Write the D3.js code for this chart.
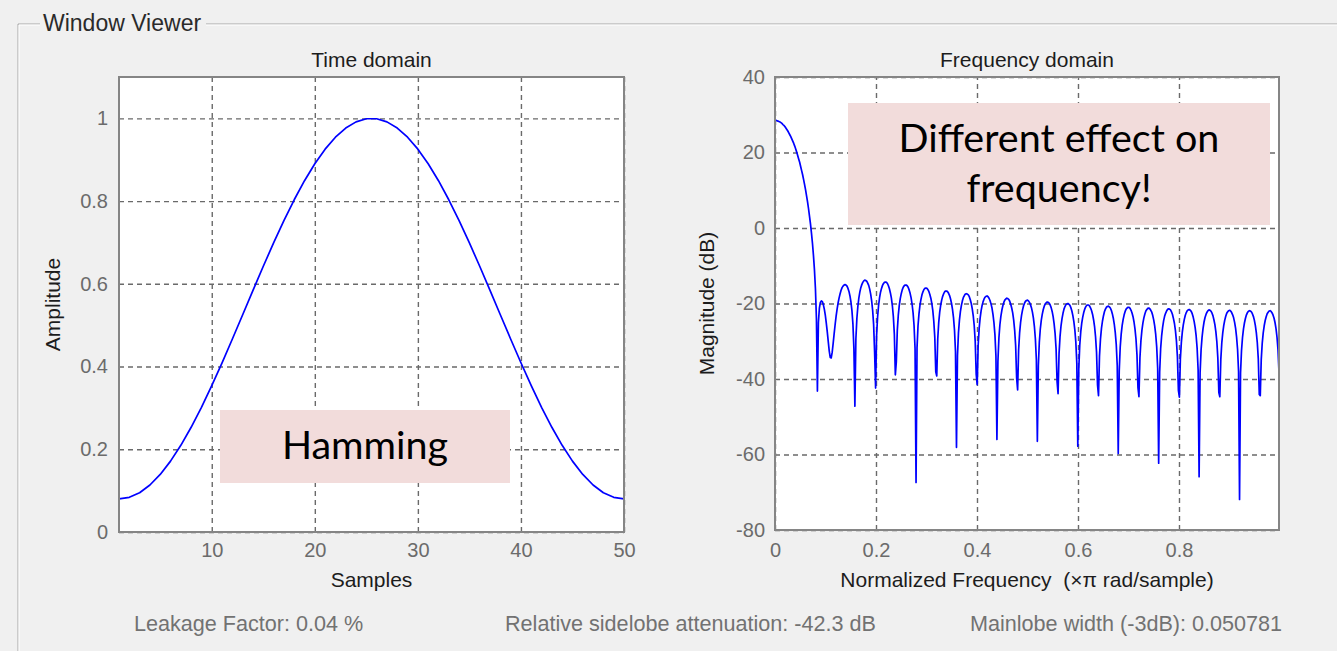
<!DOCTYPE html>
<html>
<head>
<meta charset="utf-8">
<script src="https://cdn.jsdelivr.net/npm/d3@7"></script>
<style>
  body { margin: 0; background: #f0f0f0; }
  svg { display: block; font-family: "Liberation Sans", Arial, sans-serif; }
  .tick-label text { fill: #6b6b6b; font-size: 20px; }
  .grid line { stroke: #6a6a6a; stroke-width: 1.4; stroke-dasharray: 5,4; }
  .grid path, .tick-label path { display: none; }
  .title, .axis-label { fill: #1c1c1c; font-size: 21px; white-space: pre; }
  .stat { fill: #727272; font-size: 21.6px; }
  .callout text { font-family: Lato, "Open Sans", sans-serif; font-size: 39.5px; fill: #000; }
</style>
</head>
<body>
<div id="chart"></div>
<script>
// Time domain: Hamming window, samples 1..50
const hammingAmplitude = [
    0.0800, 0.0838, 0.0950, 0.1136, 0.1392, 0.1713, 0.2096, 0.2532, 0.3015, 0.3538,
    0.4091, 0.4666, 0.5253, 0.5842, 0.6424, 0.6989, 0.7528, 0.8032, 0.8493, 0.8903,
    0.9255, 0.9544, 0.9766, 0.9915, 0.9991, 0.9991, 0.9915, 0.9766, 0.9544, 0.9255,
    0.8903, 0.8493, 0.8032, 0.7528, 0.6989, 0.6424, 0.5842, 0.5253, 0.4666, 0.4091,
    0.3538, 0.3015, 0.2532, 0.2096, 0.1713, 0.1392, 0.1136, 0.0950, 0.0838, 0.0800
];

// Frequency domain: magnitude (dB), 512 bins over [0, 1) x pi rad/sample
const magnitudeDb = [
    28.5, 28.5, 28.4, 28.3, 28.2, 28.1, 27.9, 27.7, 27.4, 27.2, 26.9, 26.5, 26.1, 25.7, 25.2, 24.7,
    24.2, 23.6, 23.0, 22.4, 21.7, 20.9, 20.1, 19.2, 18.3, 17.4, 16.3, 15.2, 14.1, 12.8, 11.5, 10.1,
    8.5, 6.9, 5.1, 3.1, 1.0, -1.4, -4.1, -7.3, -11.1, -16.1, -24.0, -43.2, -25.1, -21.2, -19.7, -19.3,
    -19.5, -20.3, -21.5, -23.1, -25.2, -27.5, -30.1, -32.6, -34.3, -34.4, -32.9, -30.5, -27.9, -25.5, -23.3, -21.4,
    -19.8, -18.5, -17.4, -16.5, -15.8, -15.4, -15.1, -15.0, -15.1, -15.4, -16.0, -16.8, -18.0, -19.6, -21.9, -25.4,
    -32.0, -47.2, -29.4, -24.0, -20.8, -18.6, -17.0, -15.8, -15.0, -14.4, -14.0, -13.8, -13.9, -14.1, -14.6, -15.2,
    -16.2, -17.5, -19.3, -21.8, -25.6, -32.9, -42.4, -28.5, -23.6, -20.6, -18.5, -17.0, -16.0, -15.2, -14.7, -14.4,
    -14.3, -14.4, -14.7, -15.3, -16.1, -17.2, -18.6, -20.6, -23.5, -28.1, -38.9, -35.5, -27.1, -23.1, -20.5, -18.7,
    -17.4, -16.4, -15.7, -15.3, -15.1, -15.1, -15.3, -15.7, -16.4, -17.3, -18.5, -20.2, -22.5, -25.9, -32.0, -67.4,
    -31.7, -25.9, -22.7, -20.4, -18.9, -17.7, -16.9, -16.3, -16.0, -15.9, -16.0, -16.3, -16.8, -17.6, -18.6, -20.0,
    -21.9, -24.7, -28.9, -38.1, -39.2, -29.4, -25.0, -22.3, -20.4, -19.1, -18.1, -17.4, -16.9, -16.7, -16.7, -16.9,
    -17.3, -17.9, -18.8, -20.0, -21.6, -23.8, -27.1, -32.8, -58.1, -33.9, -27.8, -24.4, -22.1, -20.5, -19.3, -18.4,
    -17.9, -17.5, -17.4, -17.5, -17.7, -18.2, -19.0, -20.0, -21.4, -23.3, -25.9, -30.1, -38.8, -41.5, -31.0, -26.6,
    -23.8, -21.9, -20.5, -19.5, -18.8, -18.3, -18.1, -18.0, -18.2, -18.6, -19.2, -20.1, -21.2, -22.9, -25.1, -28.3,
    -33.9, -56.0, -35.4, -29.2, -25.7, -23.4, -21.8, -20.6, -19.7, -19.1, -18.8, -18.6, -18.7, -18.9, -19.4, -20.2,
    -21.2, -22.5, -24.4, -27.1, -31.2, -39.8, -42.9, -32.3, -27.8, -25.0, -23.1, -21.7, -20.6, -19.9, -19.4, -19.2,
    -19.1, -19.3, -19.7, -20.3, -21.1, -22.3, -23.9, -26.1, -29.4, -34.9, -56.5, -36.5, -30.2, -26.7, -24.4, -22.8,
    -21.6, -20.7, -20.1, -19.8, -19.6, -19.7, -19.9, -20.4, -21.1, -22.1, -23.5, -25.4, -28.0, -32.1, -40.7, -43.9,
    -33.2, -28.7, -25.9, -24.0, -22.6, -21.5, -20.8, -20.3, -20.1, -20.0, -20.2, -20.5, -21.1, -22.0, -23.2, -24.8,
    -27.0, -30.2, -35.8, -57.8, -37.3, -31.0, -27.5, -25.2, -23.6, -22.4, -21.5, -20.9, -20.5, -20.4, -20.4, -20.7,
    -21.2, -21.9, -22.9, -24.3, -26.1, -28.8, -32.9, -41.6, -44.4, -33.9, -29.4, -26.6, -24.7, -23.3, -22.2, -21.5,
    -21.0, -20.8, -20.7, -20.9, -21.2, -21.8, -22.7, -23.9, -25.5, -27.7, -30.9, -36.5, -59.7, -37.9, -31.6, -28.1,
    -25.8, -24.2, -23.0, -22.1, -21.5, -21.2, -21.0, -21.0, -21.3, -21.8, -22.5, -23.5, -24.9, -26.8, -29.4, -33.6,
    -42.3, -44.7, -34.4, -29.9, -27.1, -25.2, -23.8, -22.8, -22.0, -21.6, -21.3, -21.2, -21.4, -21.8, -22.3, -23.2,
    -24.4, -26.0, -28.2, -31.5, -37.2, -62.3, -38.2, -32.0, -28.6, -26.3, -24.6, -23.4, -22.6, -22.0, -21.6, -21.4,
    -21.5, -21.7, -22.2, -22.9, -24.0, -25.3, -27.2, -29.9, -34.1, -43.0, -44.8, -34.7, -30.3, -27.5, -25.6, -24.2,
    -23.1, -22.4, -21.9, -21.7, -21.6, -21.8, -22.1, -22.7, -23.6, -24.8, -26.4, -28.6, -31.9, -37.6, -65.9, -38.4,
    -32.3, -28.9, -26.6, -24.9, -23.7, -22.9, -22.3, -21.9, -21.7, -21.8, -22.0, -22.5, -23.2, -24.3, -25.6, -27.5,
    -30.2, -34.5, -43.6, -44.7, -34.8, -30.4, -27.7, -25.8, -24.4, -23.4, -22.6, -22.2, -21.9, -21.8, -22.0, -22.4,
    -23.0, -23.8, -25.0, -26.6, -28.9, -32.2, -38.0, -71.9, -38.4, -32.4, -29.0, -26.7, -25.1, -23.9, -23.0, -22.4,
    -22.1, -21.9, -22.0, -22.2, -22.7, -23.4, -24.4, -25.8, -27.7, -30.4, -34.7, -44.1, -44.4, -34.8, -30.5, -27.8,
    -25.9, -24.5, -23.5, -22.7, -22.3, -22.0, -21.9, -22.1, -22.5, -23.1, -23.9, -25.1, -26.7, -29.0, -32.3, -38.3
];
const freqBins = 512;

// Tick values
const timeTicksX = [10, 20, 30, 40, 50];
const timeTicksY = [0, 0.2, 0.4, 0.6, 0.8, 1];
const freqTicksX = [0, 0.2, 0.4, 0.6, 0.8];
const freqTicksY = [-80, -60, -40, -20, 0, 20, 40];

// Measurements shown under the plots
const statTexts = [
    'Leakage Factor: 0.04 %',
    'Relative sidelobe attenuation: -42.3 dB',
    'Mainlobe width (-3dB): 0.050781'
];

const W = 1337, H = 651;
const svg = d3.select('#chart').append('svg')
    .attr('width', W)
    .attr('height', H);

svg.append('rect').attr('width', W).attr('height', H).attr('fill', '#f0f0f0');

// Group box frame ("Window Viewer")
const frame = svg.append('g');
[['#a7a7a7', 0], ['#ffffff', 1]].forEach(([c, o]) => {
    frame.append('path')
        .attr('d', `M${40},${24 + o}H${18 + o}V${H}M${206},${24 + o}H${W}`)
        .attr('fill', 'none')
        .attr('stroke', c)
        .attr('stroke-width', 1);
});
frame.append('text')
    .attr('x', 43)
    .attr('y', 31)
    .style('font-size', '23px')
    .style('fill', '#2a2a2a')
    .text('Window Viewer');

function drawPanel(opts) {
    const { left, right, top, bottom, xDomain, yDomain, xTicks, yTicks, data, xOf, title, xLabel, yLabel, yLabelX, xPad, yPad } = opts;
    const width = right - left, height = bottom - top;
    const g = svg.append('g').attr('transform', `translate(${left},${top})`);

    const x = d3.scaleLinear().domain(xDomain).range([0, width]);
    const y = d3.scaleLinear().domain(yDomain).range([height, 0]);

    g.append('rect').attr('width', width).attr('height', height).attr('fill', '#fff');

    // Dashed grid
    g.append('g')
        .attr('class', 'grid')
        .attr('transform', `translate(0,${height})`)
        .call(d3.axisBottom(x).tickValues(xTicks).tickSize(-height).tickFormat(''));
    g.append('g')
        .attr('class', 'grid')
        .call(d3.axisLeft(y).tickValues(yTicks).tickSize(-width).tickFormat(''));

    // Line
    const line = d3.line()
        .x((d, i) => x(xOf(i)))
        .y(d => y(d));
    g.append('path')
        .datum(data)
        .attr('fill', 'none')
        .attr('stroke', '#0000ff')
        .attr('stroke-width', 1.7)
        .attr('stroke-linejoin', 'round')
        .attr('d', line);

    // Box
    g.append('rect')
        .attr('width', width)
        .attr('height', height)
        .attr('fill', 'none')
        .attr('stroke', '#858585')
        .attr('stroke-width', 2);

    // Tick labels (plain hyphen for negatives, as in the original)
    g.append('g')
        .attr('class', 'tick-label')
        .attr('transform', `translate(0,${height})`)
        .call(d3.axisBottom(x).tickValues(xTicks).tickSize(0).tickPadding(xPad).tickFormat(d => String(d)));
    g.append('g')
        .attr('class', 'tick-label')
        .call(d3.axisLeft(y).tickValues(yTicks).tickSize(0).tickPadding(yPad).tickFormat(d => String(d)));
    g.selectAll('.tick-label').attr('font-family', null).attr('font-size', null);

    // Titles
    g.append('text')
        .attr('class', 'title')
        .attr('x', width / 2)
        .attr('y', -10)
        .attr('text-anchor', 'middle')
        .text(title);
    g.append('text')
        .attr('class', 'axis-label')
        .attr('x', width / 2)
        .attr('y', 587 - top)
        .attr('text-anchor', 'middle')
        .text(xLabel);
    g.append('text')
        .attr('class', 'axis-label')
        .attr('transform', `translate(${yLabelX - left},${height / 2}) rotate(-90)`)
        .attr('text-anchor', 'middle')
        .text(yLabel);
}

drawPanel({
    left: 119, right: 624, top: 77, bottom: 532,
    xDomain: [1, 50], yDomain: [0, 1.1],
    xTicks: timeTicksX, yTicks: timeTicksY,
    data: hammingAmplitude, xOf: i => i + 1,
    title: 'Time domain', xLabel: 'Samples', yLabel: 'Amplitude', yLabelX: 60,
    xPad: 11, yPad: 11
});

drawPanel({
    left: 775, right: 1279, top: 77, bottom: 530,
    xDomain: [0, (freqBins - 1) / freqBins], yDomain: [-80, 40],
    xTicks: freqTicksX, yTicks: freqTicksY,
    data: magnitudeDb, xOf: i => i / freqBins,
    title: 'Frequency domain', xLabel: 'Normalized Frequency  (\u00d7\u03c0 rad/sample)', yLabel: 'Magnitude (dB)', yLabelX: 714,
    xPad: 13, yPad: 10
});

// Measurement texts
const statX = [134, 505, 970];
svg.selectAll('.stat')
    .data(statTexts)
    .enter()
    .append('text')
    .attr('class', 'stat')
    .attr('x', (d, i) => statX[i])
    .attr('y', 631)
    .text(d => d);

// Callout boxes pasted over the plots
const callouts = [
    { x: 220, y: 410, w: 290, h: 73, lines: ['Hamming'], baseline: 459 },
    { x: 848, y: 103, w: 422, h: 122, lines: ['Different effect on', 'frequency!'], baseline: 152 }
];
const cg = svg.selectAll('.callout')
    .data(callouts)
    .enter()
    .append('g')
    .attr('class', 'callout');
cg.append('rect')
    .attr('x', d => d.x)
    .attr('y', d => d.y)
    .attr('width', d => d.w)
    .attr('height', d => d.h)
    .attr('fill', '#f2dcdb');
cg.each(function(d) {
    d3.select(this).selectAll('text')
        .data(d.lines)
        .enter()
        .append('text')
        .attr('x', d.x + d.w / 2)
        .attr('y', (t, i) => d.baseline + i * 50)
        .attr('text-anchor', 'middle')
        .text(t => t);
});
</script>
</body>
</html>
